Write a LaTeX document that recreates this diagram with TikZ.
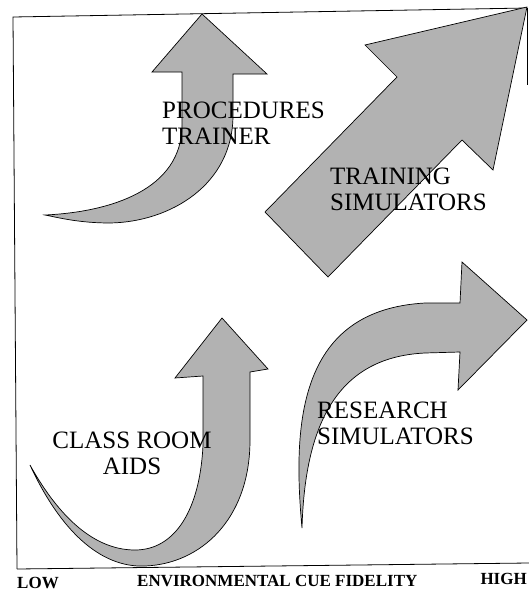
\documentclass[tikz,border=0pt]{standalone}
\usepackage{fontspec}
\setmainfont{Liberation Serif}
\usepackage{tikz}
\usepackage{xcolor}

\begin{document}
\begin{tikzpicture}[x=1pt, y=-1pt,
    grayarrow/.style={fill=black!30, draw=black, line width=0.7pt, line join=miter},
    bigtext/.style={font=\fontsize{25}{26}\selectfont, inner sep=0pt},
    axistext/.style={font=\bfseries\fontsize{17}{19}\selectfont, inner sep=0pt, anchor=north west}]
    \useasboundingbox (0,0) rectangle (529,592);

    % Frame
    \draw[line width=0.8pt] (17,569) -- (13,17) -- (527,8);
    \draw[line width=0.8pt] (17,569) -- (529,563);
    \draw[line width=0.8pt] (527,8) -- (527,85);

    % Procedures trainer arrow (curving up)
    \draw[grayarrow] (45,215) .. controls (110,212) and (182,190) .. (182,125) -- (182,72)
        -- (152,72) -- (202,14) -- (267,74) -- (233,74) -- (233,115)
        .. controls (233,185) and (170,222) .. (110,223)
        .. controls (80,223) and (60,218) .. (45,215) -- cycle;

    % Training simulators arrow (straight)
    \draw[grayarrow] (265,212) -- (397,77) -- (365,45) -- (527,7)
        -- (493,170) -- (462,140) -- (328,277) -- cycle;

    % Class room aids arrow (J shape)
    \draw[grayarrow] (30,465) .. controls (60,530) and (100,568) .. (145,566)
        .. controls (200,564) and (250,520) .. (250,440) -- (250,372)
        -- (268,369) -- (222,318) -- (175,378) -- (203,376) -- (203,445)
        .. controls (200,510) and (175,550) .. (135,550)
        .. controls (90,550) and (55,510) .. (30,465) -- cycle;

    % Research simulators arrow (curving right)
    \draw[grayarrow] (302,528) .. controls (292,420) and (300,310) .. (425,303) -- (460,303)
        -- (462,262) -- (527,320) -- (458,390) -- (460,352) -- (425,353)
        .. controls (340,357) and (305,420) .. (302,528) -- cycle;

    % Labels
    \node[bigtext, anchor=north west, align=left] (proc) at (162,102) {PROCEDURES\\TRAINER};
    \node[bigtext, anchor=north west, align=left] (train) at (330,168) {TRAINING\\SIMULATORS};
    \node[bigtext, anchor=north, align=center] (class) at (132,432) {CLASS ROOM\\AIDS};
    \node[bigtext, anchor=north west, align=left] (research) at (317,402) {RESEARCH\\SIMULATORS};

    % Axis labels
    \node[axistext] (low) at (17,577) {LOW};
    \node[axistext] (fidelity) at (137,575) {ENVIRONMENTAL CUE FIDELITY};
    \node[axistext, anchor=north east] (high) at (527,573) {HIGH};
\end{tikzpicture}
\end{document}
